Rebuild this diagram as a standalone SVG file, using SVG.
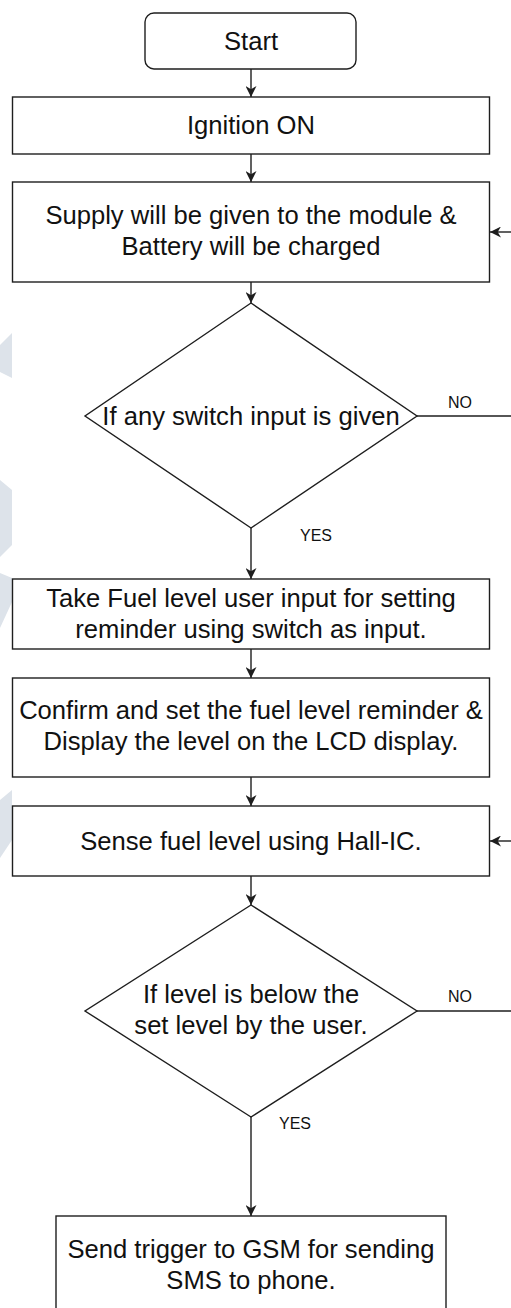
<svg xmlns="http://www.w3.org/2000/svg" width="511" height="1308" viewBox="0 0 511 1308">
  <style>
    .box { fill: #ffffff; stroke: #1e1e1e; stroke-width: 1.4; }
    .lbl { font-family: "Liberation Sans", Arial, sans-serif; font-size: 25.6px; fill: #111111; text-anchor: middle; }
    .tag { font-family: "Liberation Sans", Arial, sans-serif; font-size: 16px; fill: #111111; text-anchor: middle; }
    .edge { fill: none; stroke: #1e1e1e; stroke-width: 1.4; }
    .arrow { marker-end: url(#head); }
    .mark { fill: #dde3ea; }
  </style>
  <defs>
    <marker id="head" viewBox="0 0 10 10" refX="10" refY="5" markerWidth="11" markerHeight="11" markerUnits="userSpaceOnUse" orient="auto">
      <path d="M0,0 L10,5 L0,10 L3,5 Z" fill="#1e1e1e"/>
    </marker>
  </defs>

  <rect width="511" height="1308" fill="#ffffff"/>

  <!-- faint background mark along the left edge -->
  <g id="background-mark">
    <polygon class="mark" points="0,345 12,333 12,378 0,372"/>
    <polygon class="mark" points="0,480 12,490 12,545 0,557"/>
    <polygon class="mark" points="0,573 12,578 12,602 0,628"/>
    <polygon class="mark" points="0,800 12,790 12,840 0,858"/>
  </g>

  <g id="connectors">
    <line class="edge arrow" x1="251" y1="69" x2="251" y2="97"/>
    <line class="edge arrow" x1="251" y1="154" x2="251" y2="182"/>
    <line class="edge arrow" x1="251" y1="282" x2="251" y2="303"/>
    <line class="edge arrow" x1="251" y1="528" x2="251" y2="579"/>
    <line class="edge arrow" x1="251" y1="649" x2="251" y2="678"/>
    <line class="edge arrow" x1="251" y1="777" x2="251" y2="806"/>
    <line class="edge arrow" x1="251" y1="876" x2="251" y2="905"/>
    <line class="edge arrow" x1="251" y1="1117" x2="251" y2="1216"/>
    <!-- NO branches leave to the right -->
    <line class="edge" x1="417" y1="416" x2="511" y2="416"/>
    <line class="edge" x1="417" y1="1011" x2="511" y2="1011"/>
    <!-- loop-back entries from the right -->
    <line class="edge arrow" x1="511" y1="232" x2="490" y2="232"/>
    <line class="edge arrow" x1="511" y1="841" x2="490" y2="841"/>
    <text class="tag" x="460" y="408">NO</text>
    <text class="tag" x="316" y="541">YES</text>
    <text class="tag" x="460" y="1002">NO</text>
    <text class="tag" x="295" y="1129">YES</text>
  </g>

  <g id="start">
    <rect class="box" x="145" y="13" width="211" height="56" rx="9"/>
    <text class="lbl" x="251" y="50">Start</text>
  </g>

  <g id="ignition">
    <rect class="box" x="12.5" y="97" width="477" height="57"/>
    <text class="lbl" x="251" y="134">Ignition ON</text>
  </g>

  <g id="supply">
    <rect class="box" x="12.5" y="182" width="477" height="100"/>
    <text class="lbl" x="251" y="224">Supply will be given to the module &amp;</text>
    <text class="lbl" x="251" y="255">Battery will be charged</text>
  </g>

  <g id="switch-check">
    <polygon class="box" points="251,303 417,416 251,528 85,416"/>
    <text class="lbl" x="251" y="425">If any switch input is given</text>
  </g>

  <g id="take-input">
    <rect class="box" x="12.5" y="579" width="477" height="70"/>
    <text class="lbl" x="251" y="607">Take Fuel level user input for setting</text>
    <text class="lbl" x="251" y="638">reminder using switch as input.</text>
  </g>

  <g id="confirm">
    <rect class="box" x="12.5" y="678" width="477" height="99"/>
    <text class="lbl" x="251" y="719">Confirm and set the fuel level reminder &amp;</text>
    <text class="lbl" x="251" y="750">Display the level on the LCD display.</text>
  </g>

  <g id="sense">
    <rect class="box" x="12.5" y="806" width="477" height="70"/>
    <text class="lbl" x="251" y="850">Sense fuel level using Hall-IC.</text>
  </g>

  <g id="level-check">
    <polygon class="box" points="251,905 417,1011 251,1117 85,1011"/>
    <text class="lbl" x="251" y="1003">If level is below the</text>
    <text class="lbl" x="251" y="1034">set level by the user.</text>
  </g>

  <g id="send-sms">
    <rect class="box" x="56" y="1216" width="390" height="110"/>
    <text class="lbl" x="251" y="1258">Send trigger to GSM for sending</text>
    <text class="lbl" x="251" y="1289">SMS to phone.</text>
  </g>
</svg>
